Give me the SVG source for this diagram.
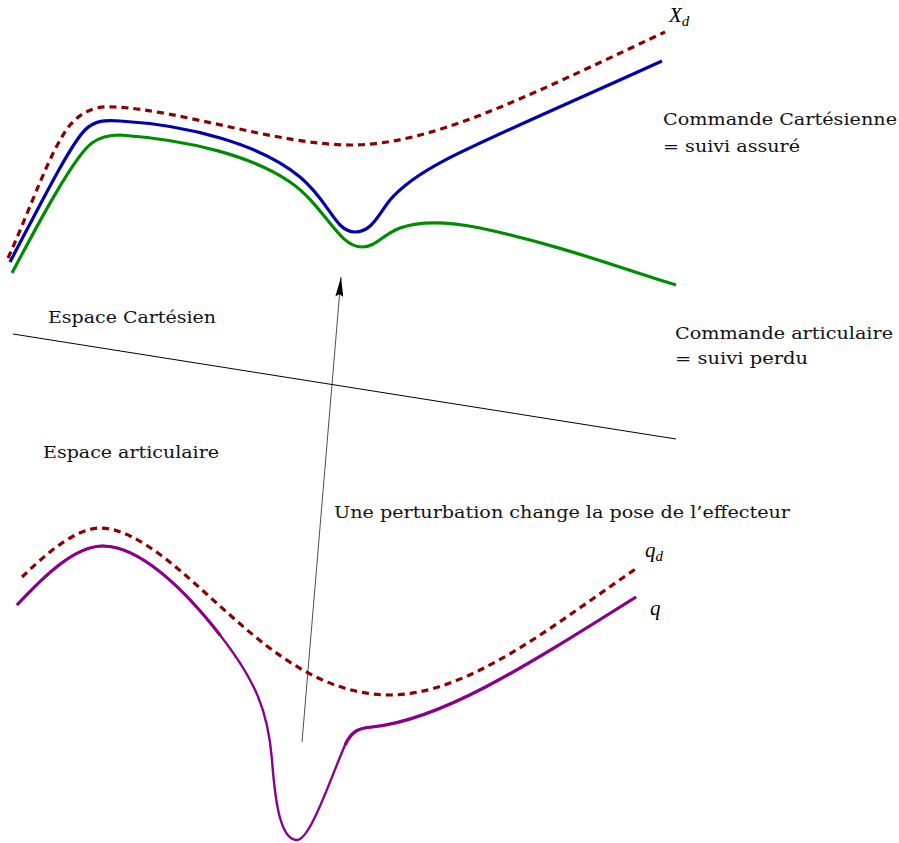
<svg xmlns="http://www.w3.org/2000/svg" width="899" height="843" viewBox="0 0 899 843">
<style>
.c{fill:none;stroke-linecap:butt;stroke-linejoin:round}
.dash{stroke:#8b0000;stroke-width:3.2;stroke-dasharray:7 5}
.t{font-family:"DejaVu Serif","Liberation Serif",serif;font-size:17px;fill:#111}
.i{font-family:"Liberation Serif","DejaVu Serif",serif;font-style:italic;font-size:21px}
</style>
<defs>
<marker id="ah" viewBox="0 0 20 8" refX="20" refY="4" markerWidth="20" markerHeight="8" markerUnits="userSpaceOnUse" orient="auto">
<path d="M0,0 L20,4 L0,8 L3,4 Z" fill="#000"/>
</marker>
</defs>
<g id="connectors">
<line x1="13" y1="334" x2="676" y2="439" stroke="#000" stroke-width="1"/>
<line x1="302" y1="742" x2="341" y2="277" stroke="#000" stroke-width="0.7" marker-end="url(#ah)"/>
</g>
<g id="cartesian-curves">
<path id="Xd" class="c dash" d="M8,258 C30,210 50,150 70,125 C85,108 100,106 115,107 C180,110 280,145 350,145 C430,145 520,100 665,32"/>
<path id="cart-blue" class="c" stroke="#0000b0" stroke-width="3.2" d="M10,262 C40,205 70,145 85,130 C95,120 105,120 120,121 C190,125 262,145 300,177 C330,202 335,232 355,232 C372,232 378,215 390,200 C420,165 470,148 662,61"/>
<path id="cart-green" class="c" stroke="#008c00" stroke-width="3.2" d="M12,273 C40,220 75,155 92,143 C100,137 110,135 120,135 C190,140 252,156 290,182 C325,206 338,247 362,247 C376,247 382,235 400,228 C420,221 450,222 480,228 C560,245 620,268 676,285"/>
</g>
<g id="joint-curves">
<path id="qd" class="c dash" d="M22,577 C45,555 75,528 100,528 C140,528 190,580 230,615 C280,660 330,695 390,695 C470,695 560,620 637,568"/>
<path id="q" class="c" stroke="#8b008b" stroke-width="2.4" d="M17,605 C45,575 75,546 103,546 C140,546 185,590 220,635 C255,680 268,710 272,760 C275,800 280,840 297,840 C310,840 330,780 345,745 C352,730 360,728 372,727 C440,720 520,670 636,597"/>
<path class="c" stroke="#8b008b" stroke-width="3.2" d="M17,605 C45,575 75,546 103,546 C140,546 185,590 220,635"/>
<path class="c" stroke="#8b008b" stroke-width="3.2" d="M345,745 C352,730 360,728 372,727 C440,720 520,670 636,597"/>
</g>
<g id="labels">
<text class="i" x="669" y="22">X<tspan font-size="15" dy="4">d</tspan></text>
<text class="t" x="663" y="125" textLength="234" lengthAdjust="spacingAndGlyphs">Commande Cartésienne</text>
<text class="t" x="663" y="152" textLength="137" lengthAdjust="spacingAndGlyphs">= suivi assuré</text>
<text class="t" x="48" y="323" textLength="168" lengthAdjust="spacingAndGlyphs">Espace Cartésien</text>
<text class="t" x="675" y="339" textLength="218" lengthAdjust="spacingAndGlyphs">Commande articulaire</text>
<text class="t" x="675" y="364" textLength="133" lengthAdjust="spacingAndGlyphs">= suivi perdu</text>
<text class="t" x="43" y="458" textLength="176" lengthAdjust="spacingAndGlyphs">Espace articulaire</text>
<text class="t" x="334" y="518" textLength="456" lengthAdjust="spacingAndGlyphs">Une perturbation change la pose de l’effecteur</text>
<text class="i" x="645" y="557">q<tspan font-size="15" dy="4">d</tspan></text>
<text class="i" x="650" y="615">q</text>
</g>
</svg>
